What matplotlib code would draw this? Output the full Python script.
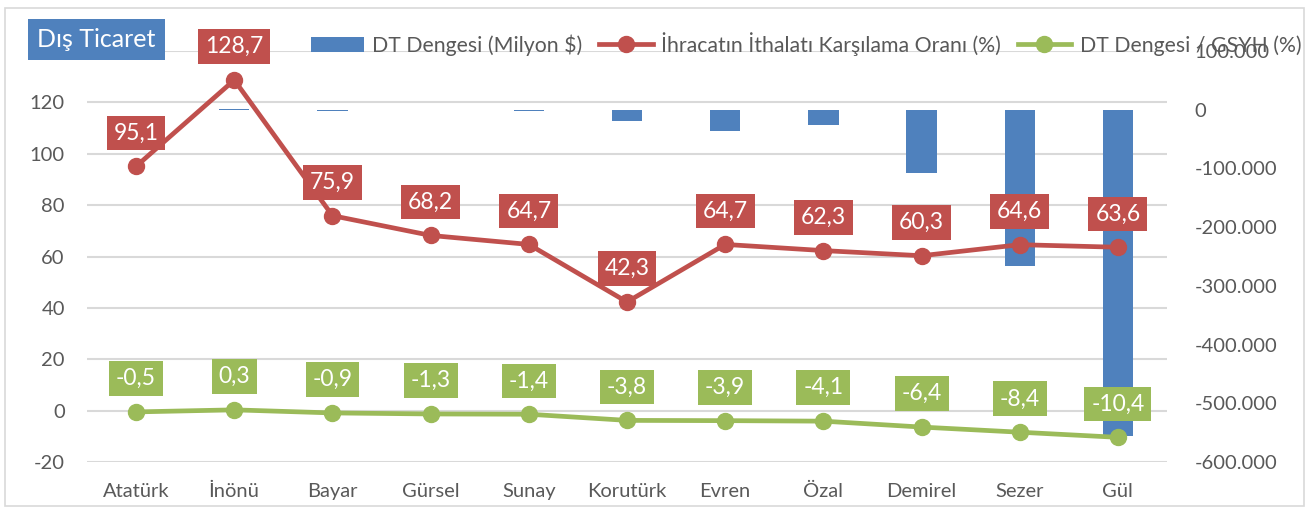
import matplotlib
matplotlib.use("Agg")
import matplotlib.pyplot as plt
from matplotlib.lines import Line2D
from matplotlib.patches import Patch, Rectangle
from matplotlib.ticker import FuncFormatter

plt.rcParams['font.family'] = ['Lato', 'DejaVu Sans']

categories = ["Atatürk", "İnönü", "Bayar", "Gürsel", "Sunay", "Korutürk",
              "Evren", "Özal", "Demirel", "Sezer", "Gül"]
dt_balance = [-900, 600, -1700, -1200, -3000, -19000, -36000, -26000,
              -108000, -267000, -555000]
coverage = [95.1, 128.7, 75.9, 68.2, 64.7, 42.3, 64.7, 62.3, 60.3, 64.6, 63.6]
balance_gdp = [-0.5, 0.3, -0.9, -1.3, -1.4, -3.8, -3.9, -4.1, -6.4, -8.4, -10.4]
left_ticks = [-20, 0, 20, 40, 60, 80, 100, 120, 140]
right_ticks = [-600000, -500000, -400000, -300000, -200000, -100000, 0, 100000]

BLUE = "#4F81BD"
RED = "#C0504D"
GREEN = "#9BBB59"
GRAY_TXT = "#595959"
GRID = "#D9D9D9"

W, H = 1309, 511
fig = plt.figure(figsize=(W / 100, H / 100), dpi=100)
fig.patch.set_facecolor("white")
fig.add_artist(Rectangle((5 / W, 5 / H), 1 - 10 / W, 1 - 13 / H, transform=fig.transFigure,
                         fill=False, edgecolor="#D9D9D9", linewidth=1.2))

pos = [87 / W, (H - 462) / H, (1167 - 87) / W, (462 - 51) / H]
x = list(range(len(categories)))

# base axes: left ticks and gridlines
ax1 = fig.add_axes(pos)
ax1.set_xlim(-0.5, len(categories) - 0.5)
ax1.set_ylim(-20, 140)
ax1.set_yticks(left_ticks)
ax1.set_yticklabels([str(t) if t != 140 else "" for t in left_ticks])
ax1.grid(axis="y", color=GRID, linewidth=1.5)
ax1.set_axisbelow(True)
ax1.set_xticks(x)
ax1.set_xticklabels(categories)
ax1.tick_params(axis="both", length=0, labelsize=14.5, colors=GRAY_TXT)
ax1.tick_params(axis="x", pad=15)
ax1.tick_params(axis="y", pad=16)
for s in ax1.spines.values():
    s.set_visible(False)

# bars on right axis
ax2 = ax1.twinx()
ax2.set_ylim(-600000, 100000)
ax2.set_yticks(right_ticks)
ax2.yaxis.set_major_formatter(FuncFormatter(lambda v, p: f"{int(v):,}".replace(",", ".")))
ax2.tick_params(axis="y", length=0, labelsize=14.5, colors=GRAY_TXT, pad=20)
for s in ax2.spines.values():
    s.set_visible(False)
ax2.bar(x, dt_balance, width=0.31, color=BLUE, zorder=2)
ax2.patch.set_visible(False)

# lines on top
ax3 = ax1.twinx()
ax3.set_ylim(-20, 140)
ax3.set_yticks([])
for s in ax3.spines.values():
    s.set_visible(False)
ax3.patch.set_visible(False)
ax3.plot(x, coverage, color=RED, linewidth=3.4, marker="o", markersize=11.5, zorder=3)
ax3.plot(x, balance_gdp, color=GREEN, linewidth=3.4, marker="o", markersize=11.5, zorder=3)

def fmt(v):
    return f"{v:.1f}".replace(".", ",")

for vals, col in ((coverage, RED), (balance_gdp, GREEN)):
    for xi, v in zip(x, vals):
        ax3.annotate(fmt(v), (xi, v), xytext=(0, 24), textcoords="offset points",
                     ha="center", va="center", color="white", fontsize=16.5,
                     bbox=dict(boxstyle="square,pad=0.3", facecolor=col, edgecolor="none"),
                     zorder=5)

# legend
handles = [Patch(facecolor=BLUE, edgecolor="none"),
           Line2D([], [], color=RED, linewidth=3.4, marker="o", markersize=11.5),
           Line2D([], [], color=GREEN, linewidth=3.4, marker="o", markersize=11.5)]
labels = ["DT Dengesi (Milyon $)", "İhracatın İthalatı Karşılama Oranı (%)", "DT Dengesi / GSYH (%)"]
leg = fig.legend(handles, labels, loc="center left", bbox_to_anchor=(302 / W, 1 - 44 / H),
                 ncol=3, frameon=False, fontsize=15.3, handlelength=2.5, handletextpad=0.4,
                 columnspacing=0.8, labelcolor=GRAY_TXT, borderaxespad=0)

# title
fig.text(96.5 / W, 1 - 39 / H, "Dış Ticaret", ha="center", va="center", fontsize=18,
         color="white",
         bbox=dict(boxstyle="square,pad=0.36", facecolor=BLUE, edgecolor="none"))

fig.savefig("out.png", dpi=100)
